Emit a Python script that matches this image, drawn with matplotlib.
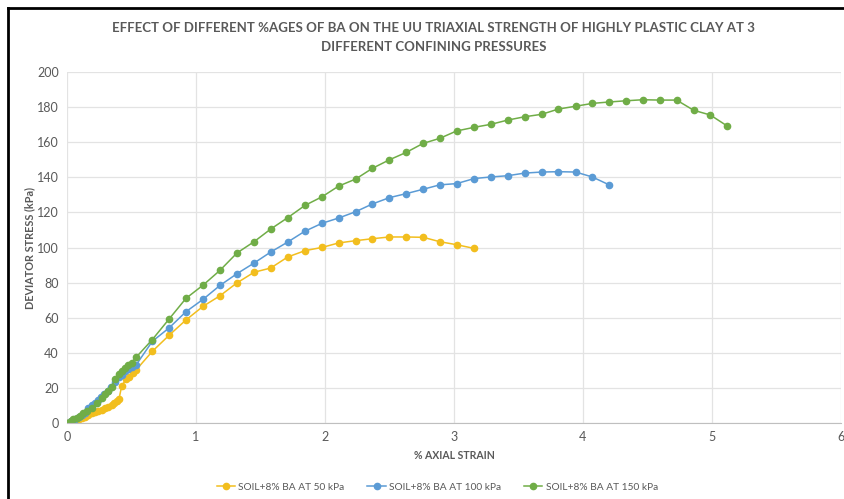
import matplotlib.pyplot as plt
from matplotlib.lines import Line2D

# SOIL+8% BA AT 50 kPa
strain_50 = [0, 0.05, 0.088, 0.114, 0.14, 0.165, 0.191, 0.217, 0.243, 0.269, 0.295,
             0.32, 0.346, 0.367, 0.385, 0.403, 0.424, 0.457, 0.483, 0.509, 0.535,
             0.661, 0.793, 0.922, 1.055, 1.186, 1.315, 1.45, 1.579, 1.711, 1.845,
             1.98, 2.106, 2.238, 2.367, 2.499, 2.63, 2.762, 2.89, 3.02, 3.155]
stress_50 = [0, 0.8, 1.7, 2.6, 3.6, 4.6, 5.5, 6.1, 6.8, 7.4, 8.3,
             9.1, 10.3, 11.6, 12.7, 13.7, 21.1, 24.9, 26.4, 28.3, 30.2,
             40.8, 50.1, 58.7, 66.5, 72.5, 79.7, 85.9, 88.3, 94.6, 98.2,
             100.1, 102.6, 103.9, 105.0, 106.0, 106.0, 105.8, 103.3, 101.6, 99.5]

# SOIL+8% BA AT 100 kPa
strain_100 = [0, 0.03, 0.06, 0.09, 0.12, 0.14, 0.165, 0.19, 0.215, 0.24, 0.265,
              0.29, 0.315, 0.34, 0.37, 0.4, 0.425, 0.45, 0.475, 0.5, 0.535,
              0.661, 0.793, 0.922, 1.057, 1.186, 1.318, 1.447, 1.579, 1.711, 1.842,
              1.977, 2.106, 2.238, 2.367, 2.499, 2.63, 2.762, 2.89, 3.02, 3.157,
              3.287, 3.416, 3.548, 3.68, 3.81, 3.943, 4.072, 4.2]
stress_100 = [0, 1.0, 2.2, 3.5, 4.8, 5.5, 8.5, 10.3, 11.5, 13.0, 14.8,
              16.5, 18.5, 20.5, 23.5, 26.0, 27.5, 29.5, 31.0, 32.0, 33.0,
              46.5, 54.3, 63.4, 70.6, 78.4, 85.1, 91.0, 97.4, 103.1, 109.2,
              113.8, 116.8, 120.4, 124.8, 128.4, 130.7, 133.2, 135.7, 136.4, 139.3,
              140.2, 140.9, 142.4, 143.0, 143.2, 143.0, 140.2, 135.8]

# SOIL+8% BA AT 150 kPa
strain_150 = [0, 0.03, 0.05, 0.075, 0.101, 0.127, 0.153, 0.191, 0.23, 0.269, 0.295,
              0.32, 0.346, 0.372, 0.403, 0.424, 0.45, 0.475, 0.5, 0.535,
              0.661, 0.793, 0.922, 1.057, 1.186, 1.318, 1.45, 1.579, 1.711, 1.845,
              1.977, 2.106, 2.238, 2.367, 2.5, 2.63, 2.76, 2.89, 3.02, 3.157,
              3.287, 3.416, 3.548, 3.68, 3.81, 3.943, 4.072, 4.2, 4.333, 4.465,
              4.597, 4.726, 4.858, 4.987, 5.119]
stress_150 = [0, 1.2, 2.0, 2.8, 4.0, 5.5, 6.8, 8.7, 11.2, 14.0, 16.3,
              18.2, 20.7, 24.9, 27.9, 29.8, 31.3, 32.9, 34.4, 37.4,
              47.5, 59.4, 71.0, 78.7, 87.0, 96.9, 103.3, 110.5, 117.0, 124.0,
              128.9, 135.0, 139.0, 145.1, 150.0, 154.2, 159.3, 162.2, 166.4, 168.5,
              170.2, 172.6, 174.5, 175.9, 178.9, 180.5, 182.1, 182.9, 183.6, 184.2,
              184.0, 184.0, 178.2, 175.5, 169.2]

series = [
    (strain_50, stress_50, '#F2BE1E', 'SOIL+8% BA AT 50 kPa'),
    (strain_100, stress_100, '#5B9BD5', 'SOIL+8% BA AT 100 kPa'),
    (strain_150, stress_150, '#70AD47', 'SOIL+8% BA AT 150 kPa'),
]

grey = '#595959'
plt.rcParams['font.family'] = ['Lato', 'DejaVu Sans']

fig = plt.figure(figsize=(8.44, 4.99), dpi=100)
ax = fig.add_axes([0.0794, 0.1523, 0.9170, 0.7034])

handles = []
for x, y, c, lab in series:
    ax.plot(x, y, color=c, lw=1.1, marker='o', ms=4.5, mec=c, mfc=c)
    handles.append(Line2D([], [], color=c, lw=1.1, marker='o', ms=4.5, label=lab))

ax.set_xlim(0, 6)
ax.set_ylim(0, 200)
ax.set_xticks(range(0, 7))
ax.set_yticks(range(0, 201, 20))
ax.grid(True, color='#E3E3E3', lw=0.9)
ax.set_axisbelow(True)
for s in ['top', 'right', 'left']:
    ax.spines[s].set_visible(False)
ax.spines['bottom'].set_color('#BFBFBF')
ax.tick_params(length=0, colors=grey, labelsize=9, pad=6)

ax.set_xlabel('% AXIAL STRAIN', color=grey, fontsize=7.6, fontweight='bold', labelpad=5)
ax.set_ylabel('DEVIATOR STRESS (kPa)', color=grey, fontsize=7.8, fontweight='bold')
ax.yaxis.set_label_coords(-0.041, 0.5)

fig.text(0.514, 0.924, 'EFFECT OF DIFFERENT %AGES OF BA ON THE UU TRIAXIAL STRENGTH OF HIGHLY PLASTIC CLAY AT 3\nDIFFERENT CONFINING PRESSURES',
         ha='center', va='center', color=grey, fontsize=9.5, fontweight='bold', linespacing=1.7)

fig.legend(handles=handles, loc='center', bbox_to_anchor=(0.518, 0.024), ncol=3,
           frameon=False, fontsize=7.3, labelcolor=grey, handlelength=1.8,
           columnspacing=2.3, handletextpad=0.3)

# black frame on left and top
fig.add_artist(Line2D([0.0095, 0.0095], [0, 0.984], color='black', lw=2, transform=fig.transFigure))
fig.add_artist(Line2D([0.0095, 1], [0.984, 0.984], color='black', lw=2, transform=fig.transFigure))

fig.savefig('out.png', dpi=100)
